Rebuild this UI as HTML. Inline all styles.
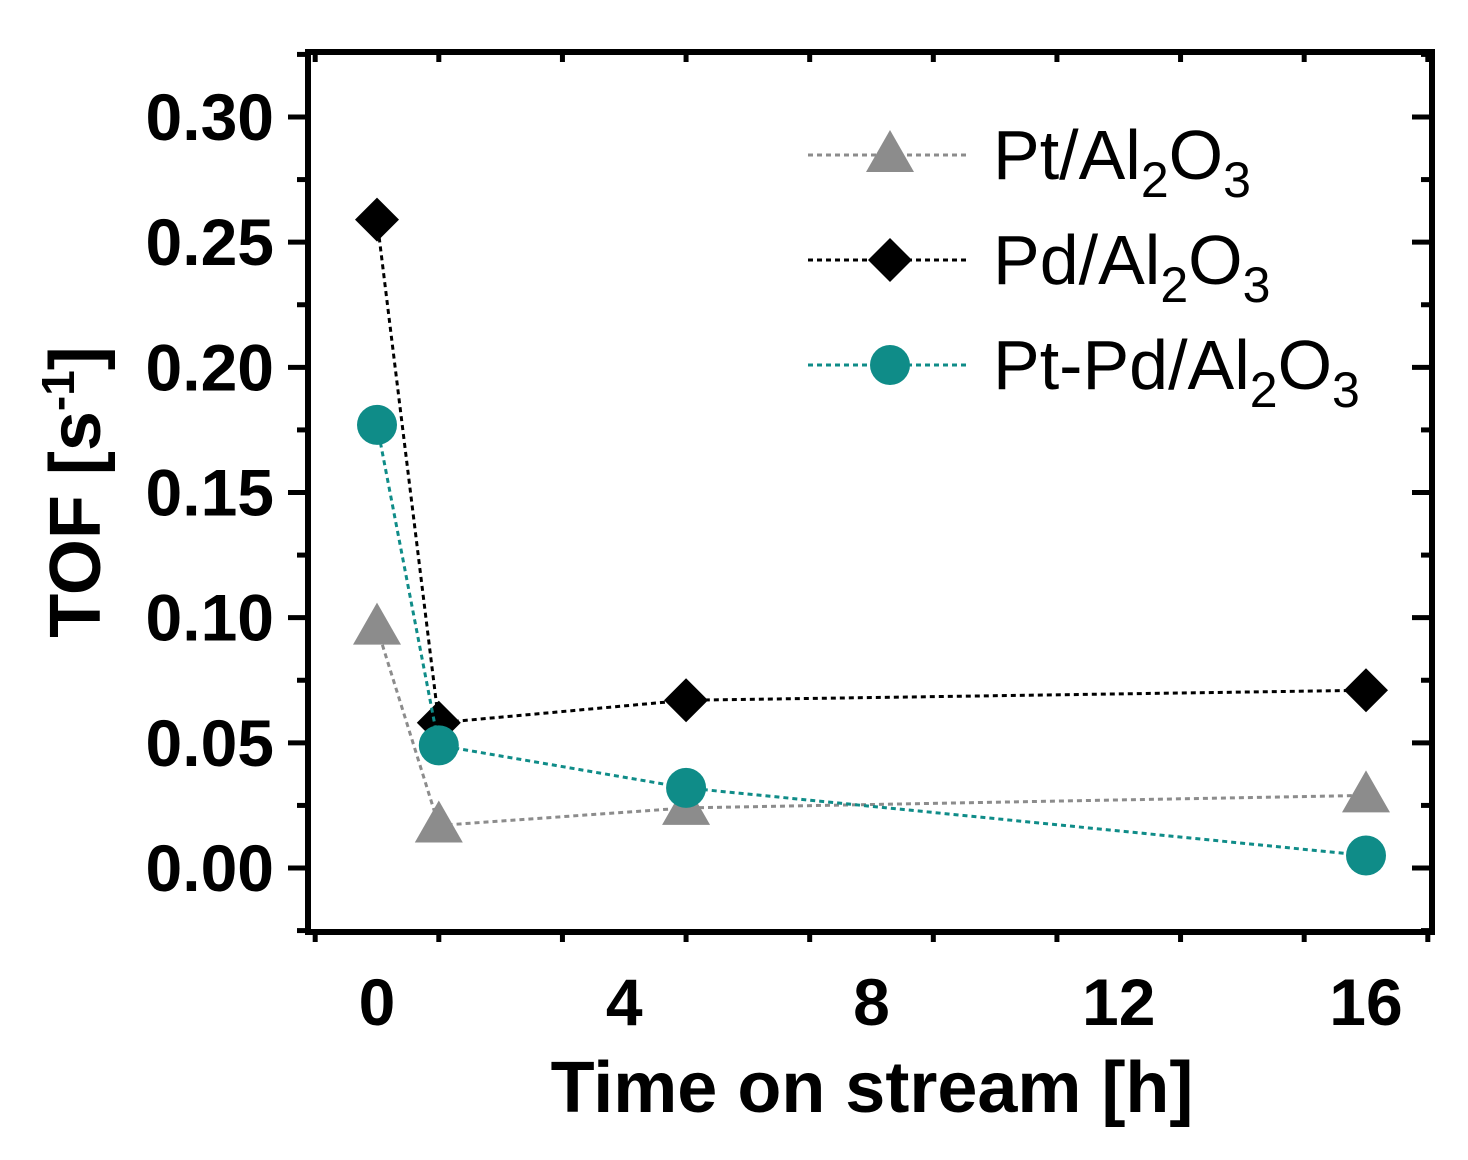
<!DOCTYPE html>
<html><head><meta charset="utf-8"><style>
body{margin:0;background:#fff;}
svg text{font-family:"Liberation Sans",Arial,sans-serif;}
</style></head><body>
<svg width="1468" height="1155" viewBox="0 0 1468 1155">
<g id="axes"></g><g id="series"></g><g id="legend"></g>
</svg>
<script>
const xTicks=[0,4,8,12,16];
const yTicks=[0,0.05,0.10,0.15,0.20,0.25,0.30];
const yTickLabels=["0.00","0.05","0.10","0.15","0.20","0.25","0.30"];
const times=[0,1,5,16];
const ptValues=[0.096,0.017,0.024,0.029];
const pdValues=[0.259,0.058,0.067,0.071];
const ptpdValues=[0.177,0.049,0.032,0.005];

const NS="http://www.w3.org/2000/svg";
const L=308,R=1432,T=52,B=932;
function xs(v){return 377+v*(1366-377)/16;}
function ys(v){return 868-v*(868-117)/0.30;}
function mk(tag,attrs,parent){const e=document.createElementNS(NS,tag);for(const k in attrs)e.setAttribute(k,attrs[k]);parent.appendChild(e);return e;}
const axes=document.getElementById('axes'),series=document.getElementById('series'),legend=document.getElementById('legend');

const frame=mk('rect',{x:L,y:T,width:R-L,height:B-T,fill:'none',stroke:'#000','stroke-width':6},axes);



for(let v=-0.025;v<=0.3251;v+=0.025){
  const y=ys(v);const major=Math.abs(Math.round(v/0.05)*0.05-v)<1e-6;
  const len=major?20:11;
  const t1=mk('line',{x1:L-len,x2:L,y1:y,y2:y,stroke:'#000','stroke-width':5},axes);
  
  
  const t2=mk('line',{x1:R-len,x2:R,y1:y,y2:y,stroke:'#000','stroke-width':5},axes);
  
  
}
yTicks.forEach((v,i)=>{
  const t=mk('text',{x:274,y:ys(v)+23,'text-anchor':'end','font-size':66,'font-weight':'bold'},axes);
  t.textContent=yTickLabels[i];
  
  
});
for(let v=-1;v<=17;v+=2){
  const x=xs(v);if(x<L||x>R)continue;const major=v%4===0;const len=major?18:10;
  const t1=mk('line',{x1:x,x2:x,y1:B,y2:B+len,stroke:'#000','stroke-width':5},axes);
  
  
  const t2=mk('line',{x1:x,x2:x,y1:T,y2:T+len,stroke:'#000','stroke-width':5},axes);
  
  
}
xTicks.forEach(v=>{
  const t=mk('text',{x:xs(v),y:1025,'text-anchor':'middle','font-size':66,'font-weight':'bold'},axes);
  t.textContent=String(v);
  
  
});
const xt=mk('text',{x:872,y:1112,'text-anchor':'middle','font-size':72,'font-weight':'bold'},axes);
xt.textContent='Time on stream [h]';


const yt=mk('text',{x:0,y:0,'text-anchor':'middle','font-size':72,'font-weight':'bold',transform:'translate(100,492) rotate(-90)'},axes);
yt.innerHTML='TOF [s<tspan dy="-26" font-size="46">-1</tspan><tspan dy="26">]</tspan>';



function marker(type,x,y,color,parent){
  let e;
  if(type==='tri')e=mk('polygon',{points:`${x},${y-25} ${x+24},${y+17} ${x-24},${y+17}`,fill:color},parent);
  else if(type==='dia')e=mk('polygon',{points:`${x},${y-22} ${x+22},${y} ${x},${y+22} ${x-22},${y}`,fill:color},parent);
  else e=mk('circle',{cx:x,cy:y,r:20,fill:color},parent);
  return e;
}
const defs=[
 {vals:ptValues,color:'#8c8c8c',type:'tri',name:'pt'},
 {vals:pdValues,color:'#000',type:'dia',name:'pd'},
 {vals:ptpdValues,color:'#0f8c88',type:'circ',name:'ptpd'}];
defs.forEach(s=>{
  const pts=times.map((t,i)=>xs(t)+','+ys(s.vals[i])).join(' ');
  const pl=mk('polyline',{points:pts,fill:'none',stroke:s.color,'stroke-width':3,'stroke-dasharray':'5,4'},series);
  
  
  times.forEach((t,i)=>{
    const m=marker(s.type,xs(t),ys(s.vals[i]),s.color,series);
    
    
  });
});
const legLabels=[['Pt/Al','2','O','3'],['Pd/Al','2','O','3'],['Pt-Pd/Al','2','O','3']];
const legY=[155,260,365];
defs.forEach((s,i)=>{
  const y=legY[i];
  const l=mk('line',{x1:808,x2:970,y1:y,y2:y,stroke:s.color,'stroke-width':3,'stroke-dasharray':'5,4'},legend);
  
  
  const m=marker(s.type,890,y,s.color,legend);
  
  
  const t=mk('text',{x:993,y:y+24,'font-size':70},legend);
  const p=legLabels[i];
  t.innerHTML=`${p[0]}<tspan dy="18" font-size="50">${p[1]}</tspan><tspan dy="-18">${p[2]}</tspan><tspan dy="18" font-size="50">${p[3]}</tspan>`;
  
  
});
</script>
</body></html>
